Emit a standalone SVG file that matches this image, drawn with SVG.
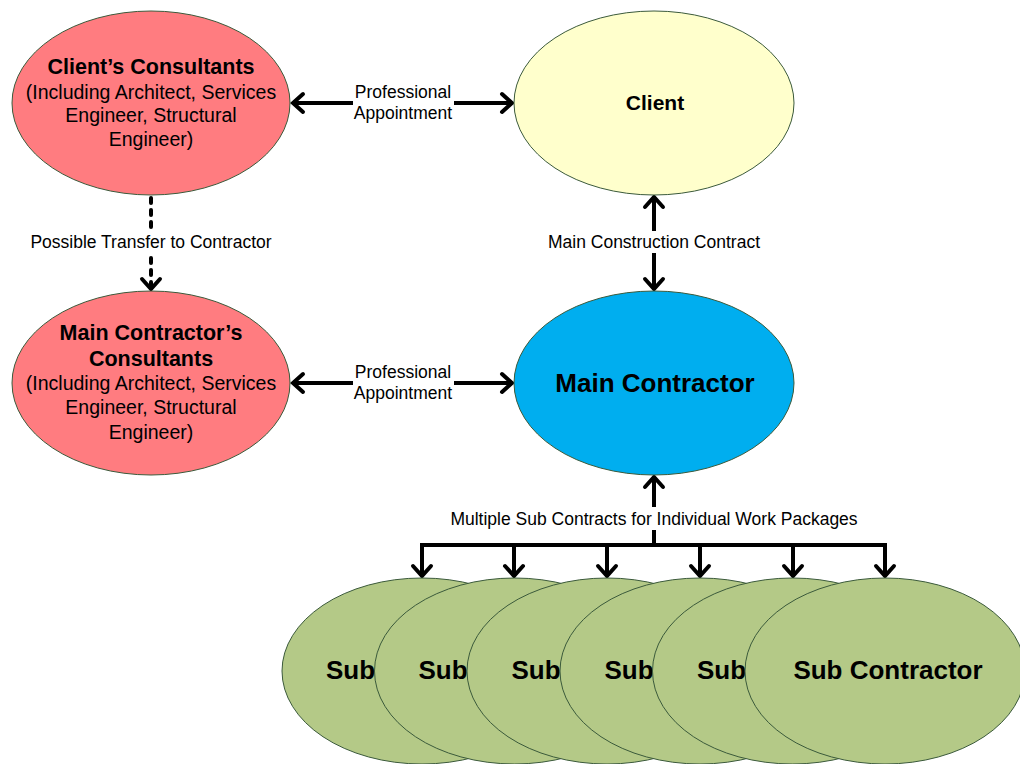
<svg xmlns="http://www.w3.org/2000/svg" width="1020" height="764" viewBox="0 0 1020 764">
<style>
.node{stroke:#3b5a3b;stroke-width:1}
.pink{fill:#FF7C80}
.yellow{fill:#FFFFCC}
.blue{fill:#00AEEF}
.green{fill:#B4C987}
.t{font-family:"Liberation Sans",Arial,sans-serif;fill:#000;text-anchor:middle}
.b{font-weight:bold}
.lbl{font-size:17.5px}
.sm{font-size:19.5px}
.conn{stroke:#000;stroke-width:4;fill:none}
.bg{fill:#fff}
</style>
<defs>
<marker id="ah" markerUnits="userSpaceOnUse" viewBox="-14 -12 18 24" markerWidth="18" markerHeight="24" refX="0" refY="0" orient="auto-start-reverse">
<path d="M-10,-9 L0,0 L-10,9" fill="none" stroke="#000" stroke-width="4" stroke-linecap="round" stroke-linejoin="miter"/>
</marker>
</defs>
<g id="connectors">
<line class="conn" x1="293" y1="103" x2="512" y2="103" marker-start="url(#ah)" marker-end="url(#ah)"/>
<line class="conn" x1="293" y1="383" x2="512" y2="383" marker-start="url(#ah)" marker-end="url(#ah)"/>
<line class="conn" x1="654" y1="197" x2="654" y2="289" marker-start="url(#ah)" marker-end="url(#ah)"/>
<line class="conn" x1="151" y1="198" x2="151" y2="289" stroke-dasharray="5,7" stroke-linecap="round" marker-end="url(#ah)"/>
<line class="conn" x1="654" y1="545" x2="654" y2="477" marker-end="url(#ah)"/>
<polyline class="conn" points="422,547 422,545 885,545 885,547"/>
<line class="conn" x1="422" y1="543" x2="422" y2="576" marker-end="url(#ah)"/>
<line class="conn" x1="514" y1="545" x2="514" y2="576" marker-end="url(#ah)"/>
<line class="conn" x1="607" y1="545" x2="607" y2="576" marker-end="url(#ah)"/>
<line class="conn" x1="700" y1="545" x2="700" y2="576" marker-end="url(#ah)"/>
<line class="conn" x1="793" y1="545" x2="793" y2="576" marker-end="url(#ah)"/>
<line class="conn" x1="885" y1="543" x2="885" y2="576" marker-end="url(#ah)"/>
<rect class="bg" x="353" y="82" width="101" height="42"/>
<text class="t lbl" x="403" y="98">Professional</text>
<text class="t lbl" x="403" y="119">Appointment</text>
<rect class="bg" x="353" y="362" width="101" height="42"/>
<text class="t lbl" x="403" y="378">Professional</text>
<text class="t lbl" x="403" y="399">Appointment</text>
<rect class="bg" x="546" y="231" width="217" height="22"/>
<text class="t lbl" x="654" y="248">Main Construction Contract</text>
<rect class="bg" x="28" y="231" width="247" height="22"/>
<text class="t lbl" x="151" y="248">Possible Transfer to Contractor</text>
<rect class="bg" x="448" y="507" width="412" height="23"/>
<text class="t lbl" x="654" y="525">Multiple Sub Contracts for Individual Work Packages</text>
</g>
<g id="client-consultants">
<ellipse class="node pink" cx="151" cy="103" rx="139" ry="92"/>
<text class="t b" x="151" y="74" font-size="21.5">Client’s Consultants</text>
<text class="t sm" x="151" y="99">(Including Architect, Services</text>
<text class="t sm" x="151" y="122">Engineer, Structural</text>
<text class="t sm" x="151" y="146">Engineer)</text>
</g>
<g id="client">
<ellipse class="node yellow" cx="654" cy="103" rx="140" ry="92"/>
<text class="t b" x="655" y="110" font-size="21">Client</text>
</g>
<g id="main-contractor-consultants">
<ellipse class="node pink" cx="151" cy="383" rx="139" ry="92"/>
<text class="t b" x="151" y="340" font-size="21.5">Main Contractor’s</text>
<text class="t b" x="151" y="366" font-size="21.5">Consultants</text>
<text class="t sm" x="151" y="390">(Including Architect, Services</text>
<text class="t sm" x="151" y="414">Engineer, Structural</text>
<text class="t sm" x="151" y="439">Engineer)</text>
</g>
<g id="main-contractor">
<ellipse class="node blue" cx="654" cy="383" rx="140" ry="92"/>
<text class="t b" x="655" y="392" font-size="26">Main Contractor</text>
</g>
<g id="sub-1">
<ellipse class="node green" cx="422" cy="671" rx="140" ry="93"/>
<text class="t b" x="326" y="679" font-size="26" style="text-anchor:start">Sub</text>
</g>
<g id="sub-2">
<ellipse class="node green" cx="514.5" cy="671" rx="140" ry="93"/>
<text class="t b" x="418.5" y="679" font-size="26" style="text-anchor:start">Sub</text>
</g>
<g id="sub-3">
<ellipse class="node green" cx="607" cy="671" rx="140" ry="93"/>
<text class="t b" x="511.5" y="679" font-size="26" style="text-anchor:start">Sub</text>
</g>
<g id="sub-4">
<ellipse class="node green" cx="700" cy="671" rx="140" ry="93"/>
<text class="t b" x="604.5" y="679" font-size="26" style="text-anchor:start">Sub</text>
</g>
<g id="sub-5">
<ellipse class="node green" cx="792.5" cy="671" rx="140" ry="93"/>
<text class="t b" x="697" y="679" font-size="26" style="text-anchor:start">Sub</text>
</g>
<g id="sub-6">
<ellipse class="node green" cx="885" cy="671" rx="140" ry="93"/>
<text class="t b" x="888" y="679" font-size="26">Sub Contractor</text>
</g>
</svg>
